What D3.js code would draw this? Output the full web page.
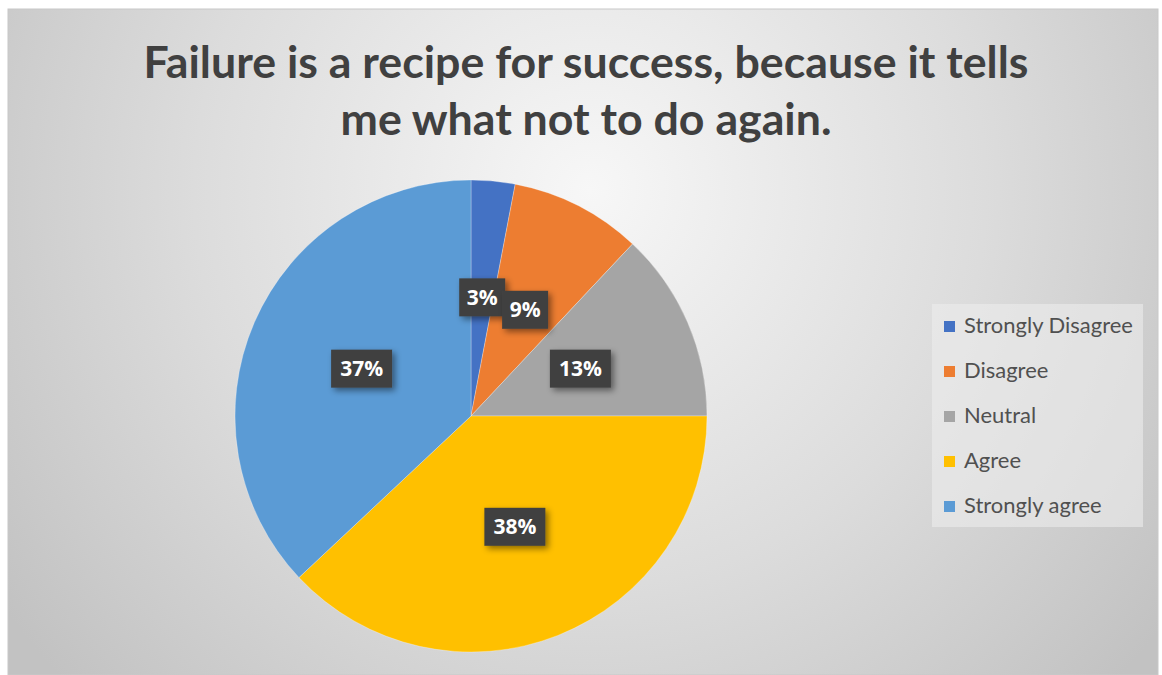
<!DOCTYPE html>
<html>
<head>
<meta charset="utf-8">
<script src="https://cdn.jsdelivr.net/npm/d3@7"></script>
<style>
  html, body { margin: 0; padding: 0; background: #ffffff; }
  svg { display: block; }
</style>
</head>
<body>
<svg id="chart" width="1162" height="675"></svg>
<script>
// Survey responses to the statement in the title
const categories = ["Strongly Disagree", "Disagree", "Neutral", "Agree", "Strongly agree"];
const shares = [3, 9, 13, 38, 37];
const colors = ["#4472C4", "#ED7D31", "#A5A5A5", "#FFC000", "#5B9BD5"];
const titleLines = ["Failure is a recipe for success, because it tells", "me what not to do again."];

const svg = d3.select("#chart");
const FONT = "Lato, 'Open Sans', 'Noto Sans', sans-serif";
const LABEL_FONT = "'Open Sans', Lato, 'Noto Sans', sans-serif";

const defs = svg.append("defs");
const bg = defs.append("radialGradient")
  .attr("id", "bg").attr("gradientUnits", "userSpaceOnUse")
  .attr("cx", 590).attr("cy", 190).attr("r", 720);
bg.append("stop").attr("offset", 0).attr("stop-color", "#f7f7f7");
bg.append("stop").attr("offset", 0.55).attr("stop-color", "#dcdcdc");
bg.append("stop").attr("offset", 1).attr("stop-color", "#c2c2c2");

const shadow = defs.append("filter").attr("id", "shadow")
  .attr("x", "-30%").attr("y", "-30%").attr("width", "170%").attr("height", "170%");
shadow.append("feDropShadow").attr("dx", 3).attr("dy", 3)
  .attr("stdDeviation", 3).attr("flood-color", "#000").attr("flood-opacity", 0.45);

// Chart area
svg.append("rect")
  .attr("x", 8).attr("y", 9).attr("width", 1150).attr("height", 666)
  .attr("fill", "url(#bg)").attr("stroke", "#c8c8c8").attr("stroke-width", 1);

// Title, sized so the first line spans the chart's width
const title = svg.append("g")
  .attr("font-family", FONT).attr("font-weight", 700).attr("fill", "#404040")
  .attr("text-anchor", "middle");
const titleY = [78, 135];
const tl = title.selectAll("text").data(titleLines).join("text")
  .attr("x", 586).attr("y", (d, i) => titleY[i])
  .attr("font-size", 40)
  .text(d => d);
const w0 = tl.node().getComputedTextLength();
tl.attr("font-size", 40 * 885 / w0);

// Pie
const cx = 471, cy = 416, R = 236;
const pie = d3.pie().sort(null).value(d => d)(shares);
const arc = d3.arc().innerRadius(0).outerRadius(R);
const g = svg.append("g").attr("transform", `translate(${cx},${cy})`);
g.selectAll("path").data(pie).join("path")
  .attr("d", arc)
  .attr("fill", (d, i) => colors[i])
  .attr("stroke", "rgba(255,255,255,0.35)")
  .attr("stroke-width", 0.8);

// Data labels at half radius in dark boxes
const labelArc = d3.arc().innerRadius(0).outerRadius(R * 1.01);
const labels = g.selectAll("g.lbl").data(pie).join("g")
  .attr("class", "lbl")
  .attr("transform", d => `translate(${labelArc.centroid(d)})`);
labels.each(function (d) {
  const sel = d3.select(this);
  const txt = d.data + "%";
  const bw = txt.length === 2 ? 46 : 61;
  sel.append("rect")
    .attr("x", -bw / 2).attr("y", -19).attr("width", bw).attr("height", 38)
    .attr("fill", "#404040").attr("filter", "url(#shadow)");
  sel.append("text")
    .attr("text-anchor", "middle").attr("y", 7.5)
    .attr("font-family", LABEL_FONT).attr("font-weight", 700)
    .attr("font-size", 21).attr("fill", "#ffffff")
    .text(txt);
});

// Legend
const lg = svg.append("g").attr("font-family", FONT);
lg.append("rect")
  .attr("x", 932).attr("y", 304).attr("width", 211).attr("height", 223)
  .attr("fill", "#ececec").attr("fill-opacity", 0.6);
const ly = d3.scalePoint().domain(categories).range([326, 506]);
const items = lg.selectAll("g.item").data(categories).join("g")
  .attr("class", "item")
  .attr("transform", d => `translate(944,${ly(d)})`);
items.append("rect")
  .attr("x", 0).attr("y", -5).attr("width", 11).attr("height", 11)
  .attr("fill", (d, i) => colors[i]);
const lt = items.append("text")
  .attr("x", 20).attr("y", 7)
  .attr("font-size", 19).attr("fill", "#505050")
  .text(d => d);
// widest entry spans the legend box
const lw = lt.nodes()[0].getComputedTextLength();
lt.attr("font-size", 19 * 169 / lw);
</script>
</body>
</html>
